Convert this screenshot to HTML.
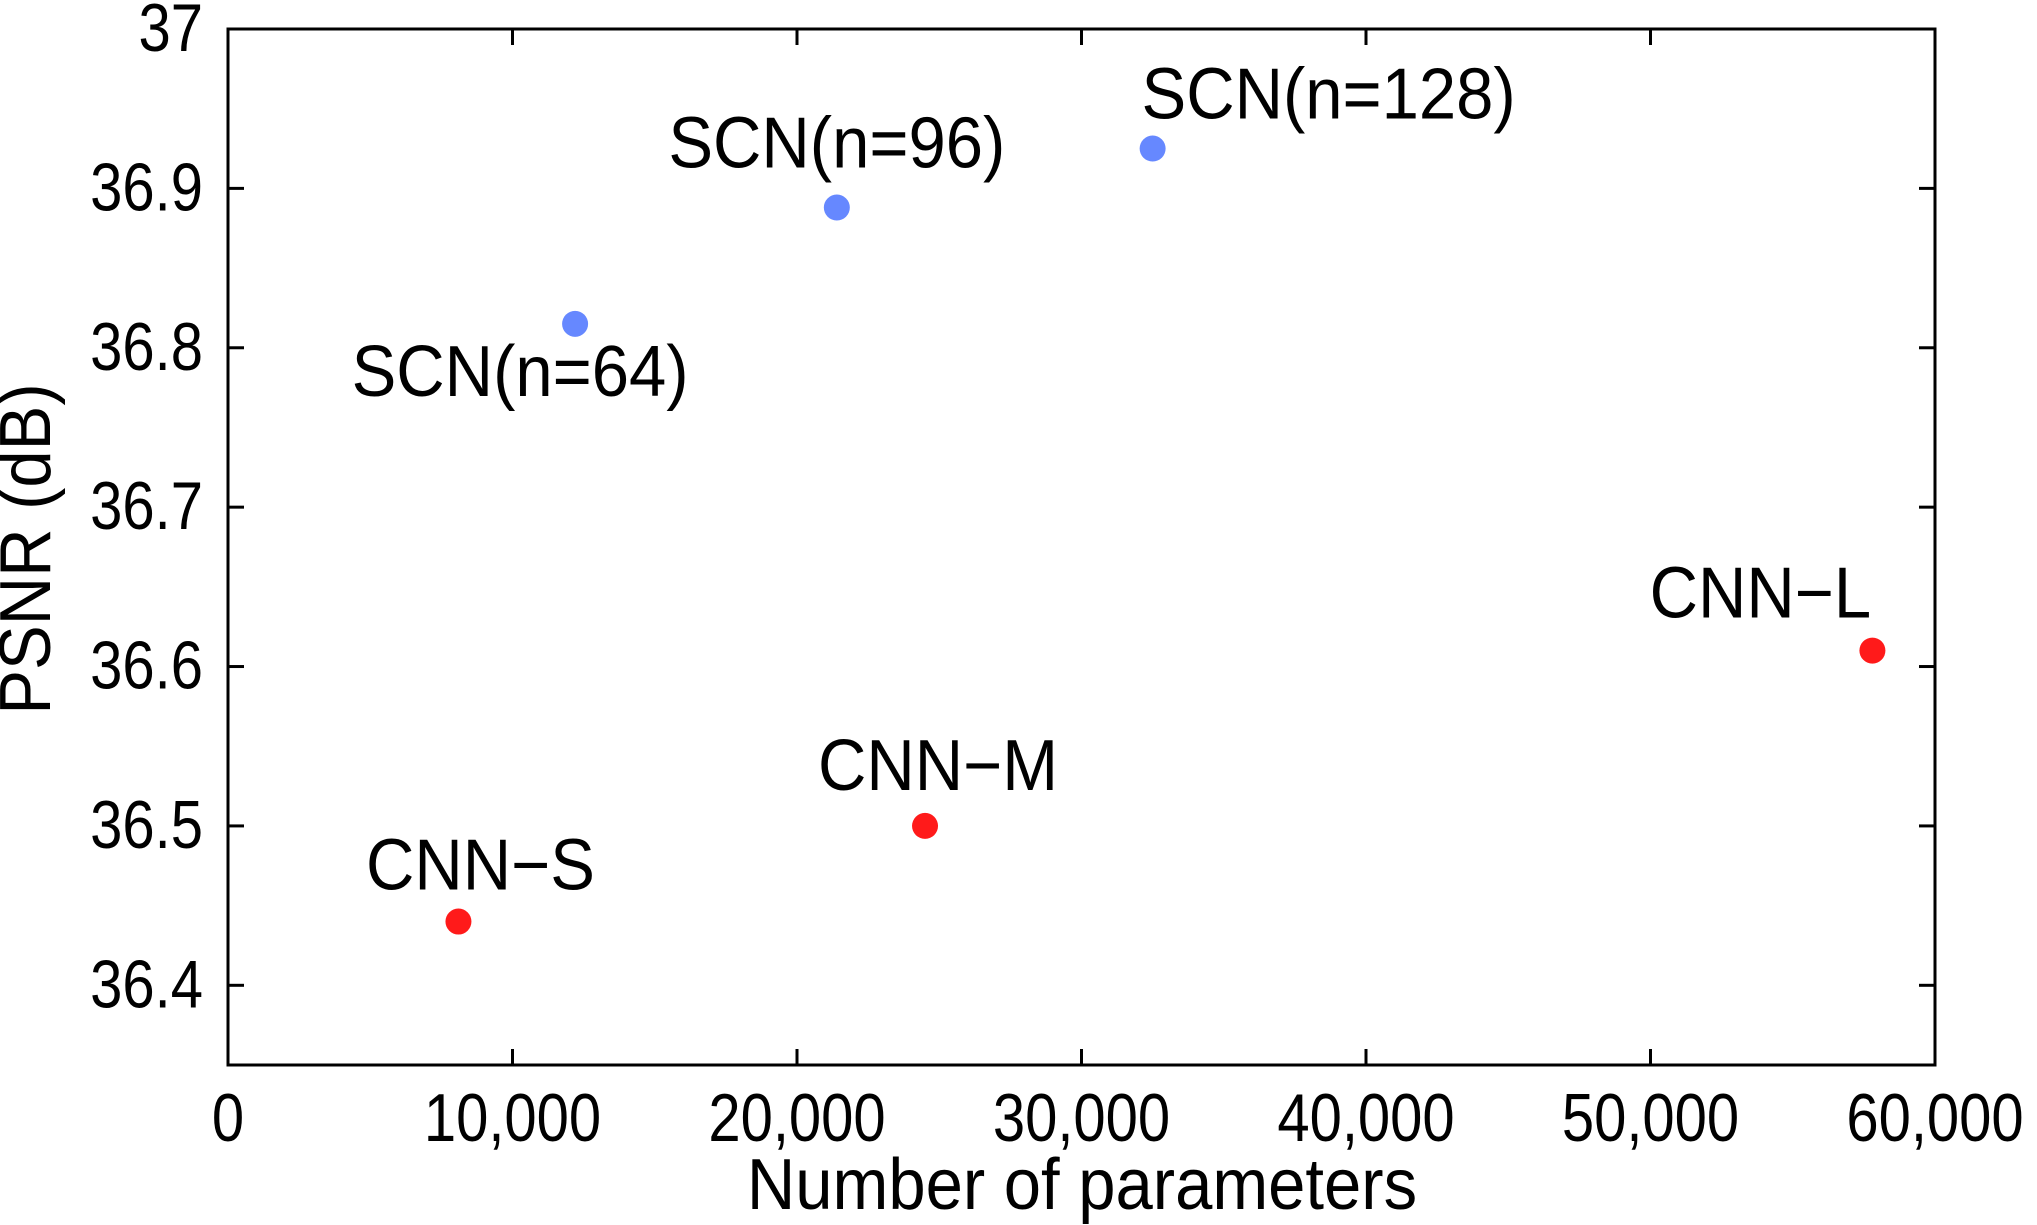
<!DOCTYPE html>
<html><head><meta charset="utf-8"><style>
html,body{margin:0;padding:0;background:#fff}
svg{display:block}
text{font-family:"Liberation Sans",Arial,sans-serif;fill:#000}
</style></head><body>
<svg id="chart" width="2037" height="1225" viewBox="0 0 2037 1225" xmlns="http://www.w3.org/2000/svg"></svg>
<script>
const categories = ["CNN-S","CNN-M","CNN-L","SCN(n=64)","SCN(n=96)","SCN(n=128)"];
const paramValues = [8100, 24500, 57800, 12200, 21400, 32500];
const psnrValues = [36.44, 36.50, 36.61, 36.815, 36.888, 36.925];
const groups = ["cnn","cnn","cnn","scn","scn","scn"];
const xTicks = [0,10000,20000,30000,40000,50000,60000];
const xTickLabels = ["0","10,000","20,000","30,000","40,000","50,000","60,000"];
const yTicks = [36.4,36.5,36.6,36.7,36.8,36.9,37];
const yTickLabels = ["36.4","36.5","36.6","36.7","36.8","36.9","37"];
// label offsets (presentation only): dx, dy relative to point
const labelOffsets = [[22,-32],[13,-36],[-112,-33],[-55,72],[0,-40],[176,-30]];

const L=228,R=1935,T=29,B=1065;
const xMin=0,xMax=60000,yMin=36.35,yMax=37;
const sx=v=>L+(v-xMin)/(xMax-xMin)*(R-L);
const sy=v=>B-(v-yMin)/(yMax-yMin)*(B-T);
const NS="http://www.w3.org/2000/svg";
const svg=document.getElementById('chart');
function mk(tag,attrs,parent){const e=document.createElementNS(NS,tag);for(const k in attrs)e.setAttribute(k,attrs[k]);(parent||svg).appendChild(e);return e;}
function txt(x,y,size,sy_,anchor,str,rot){
  const tr='translate('+x+','+y+')'+(rot?' rotate('+rot+')':'')+' scale(1,'+sy_+')';
  const e=mk('text',{x:0,y:0,'font-size':size,'text-anchor':anchor,transform:tr});
  e.textContent=str;return e;
}

const frame=mk('rect',{x:L,y:T,width:R-L,height:B-T,fill:'none',stroke:'#000','stroke-width':3});



xTicks.forEach((v,i)=>{
  const x=sx(v);
  const t1=mk('line',{x1:x,x2:x,y1:B,y2:B-16,stroke:'#000','stroke-width':3});
  
  
  const t2=mk('line',{x1:x,x2:x,y1:T,y2:T+16,stroke:'#000','stroke-width':3});
  
  
  const lb=txt(x,1141,58,1.17,'middle',xTickLabels[i]);
  
  
});
yTicks.forEach((v,i)=>{
  const y=sy(v);
  const t1=mk('line',{x1:L,x2:L+16,y1:y,y2:y,stroke:'#000','stroke-width':3});
  
  
  const t2=mk('line',{x1:R,x2:R-16,y1:y,y2:y,stroke:'#000','stroke-width':3});
  
  
  const lb=txt(203,y+22,58,1.17,'end',yTickLabels[i]);
  
  
});

categories.forEach((c,i)=>{
  const x=sx(paramValues[i]),y=sy(psnrValues[i]);
  const pt=mk('circle',{cx:x,cy:y,r:13,fill:groups[i]==='cnn'?'#ff1a1a':'#6688ff'});
  
  
  const lb=txt(x+labelOffsets[i][0],y+labelOffsets[i][1],67,1.08,'middle',c.replace('-','\u2212'));
  
  
});

const xt=txt(1082,1209,67,1.08,'middle','Number of parameters');


const yt=txt(50,549,67,1.08,'middle','PSNR (dB)',-90);


</script>
</body></html>
